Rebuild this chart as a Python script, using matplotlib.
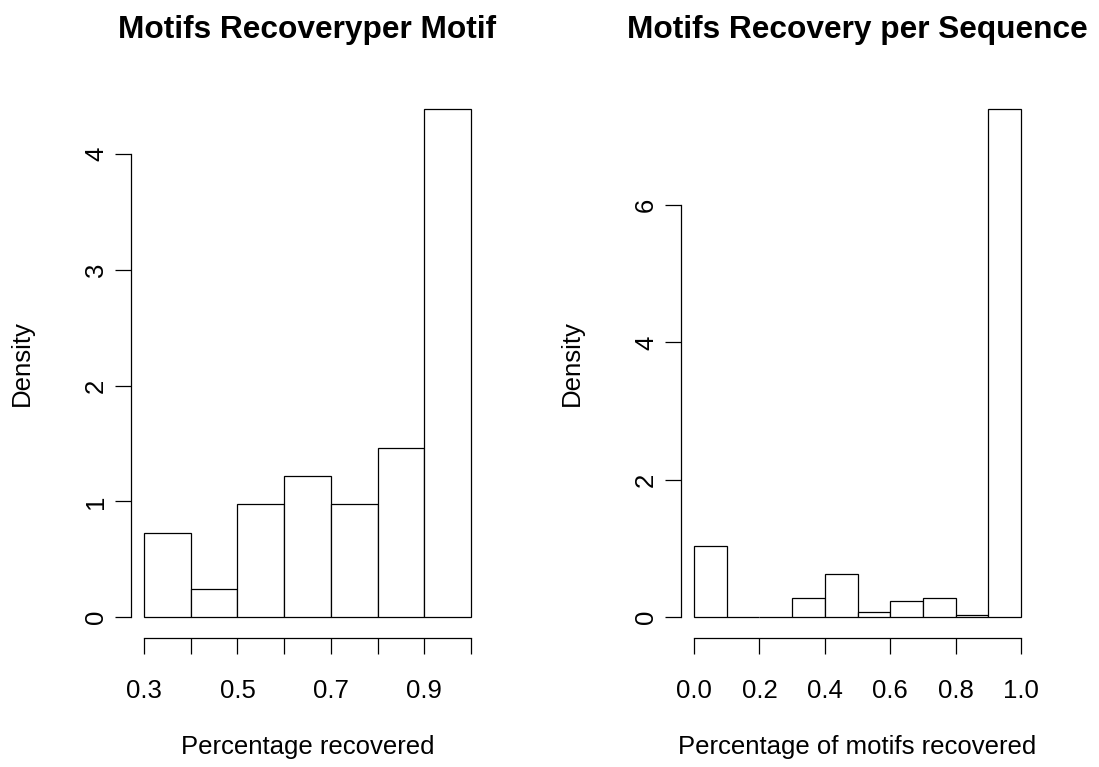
import numpy as np
import matplotlib
matplotlib.use("Agg")
import matplotlib.pyplot as plt

plt.rcParams['font.family'] = ['Liberation Sans', 'DejaVu Sans']

# per-motif recovery: bin edges and densities
motif_edges = [0.3, 0.4, 0.5, 0.6, 0.7, 0.8, 0.9, 1.0]
motif_density = [0.732, 0.244, 0.976, 1.220, 0.976, 1.463, 4.390]
motif_xticks = [0.3, 0.4, 0.5, 0.6, 0.7, 0.8, 0.9, 1.0]
motif_xlabels = ["0.3", "", "0.5", "", "0.7", "", "0.9", ""]
motif_yticks = [0, 1, 2, 3, 4]

# per-sequence recovery
seq_edges = [0.0, 0.1, 0.2, 0.3, 0.4, 0.5, 0.6, 0.7, 0.8, 0.9, 1.0]
seq_density = [1.040, 0.0, 0.0, 0.278, 0.635, 0.070, 0.240, 0.278, 0.035, 7.400]
seq_xticks = [0.0, 0.2, 0.4, 0.6, 0.8, 1.0]
seq_xlabels = ["0.0", "0.2", "0.4", "0.6", "0.8", "1.0"]
seq_yticks = [0, 2, 4, 6]

FS = 18.5


def rhist(ax, edges, dens, xticks, xlabels, yticks, title, xlabel):
    edges = np.asarray(edges)
    dens = np.asarray(dens)
    ax.bar(edges[:-1], dens, width=np.diff(edges), align="edge",
           color="white", edgecolor="black", linewidth=0.9)
    # base-R style: 4% padding, detached axes
    xr = edges[-1] - edges[0]
    ax.set_xlim(edges[0] - 0.04 * xr, edges[-1] + 0.04 * xr)
    ax.set_ylim(-0.04 * dens.max(), 1.04 * dens.max())
    for s in ("top", "right"):
        ax.spines[s].set_visible(False)
    ax.spines["bottom"].set_bounds(xticks[0], xticks[-1])
    ax.spines["left"].set_bounds(yticks[0], yticks[-1])
    for s in ("bottom", "left"):
        ax.spines[s].set_linewidth(0.9)
    ax.set_xticks(xticks)
    ax.set_xticklabels(xlabels)
    ax.set_yticks(yticks)
    ax.set_yticklabels([str(v) for v in yticks], rotation=90, va="center")
    ax.tick_params(axis="x", length=11.5, width=0.9, pad=18, labelsize=FS)
    ax.tick_params(axis="y", length=11.5, width=0.9, pad=5, labelsize=FS)
    ax.set_xlabel(xlabel, fontsize=FS, va="center")
    ax.xaxis.set_label_coords(0.5, -0.199)
    ax.set_ylabel("Density", fontsize=FS, va="center")
    ax.yaxis.set_label_coords(-0.31, 0.5)
    ax.set_title(title, fontsize=22.8, fontweight="bold", y=1.092, pad=0)


fig = plt.figure(figsize=(10.99, 7.67), dpi=100)
ax1 = fig.add_axes([0.1192, 0.1687, 0.3212, 0.7158])
ax2 = fig.add_axes([0.6197, 0.1687, 0.3212, 0.7158])

rhist(ax1, motif_edges, motif_density, motif_xticks, motif_xlabels, motif_yticks,
      "Motifs Recoveryper Motif", "Percentage recovered")
rhist(ax2, seq_edges, seq_density, seq_xticks, seq_xlabels, seq_yticks,
      "Motifs Recovery per Sequence", "Percentage of motifs recovered")

fig.savefig("out.png", dpi=100)
